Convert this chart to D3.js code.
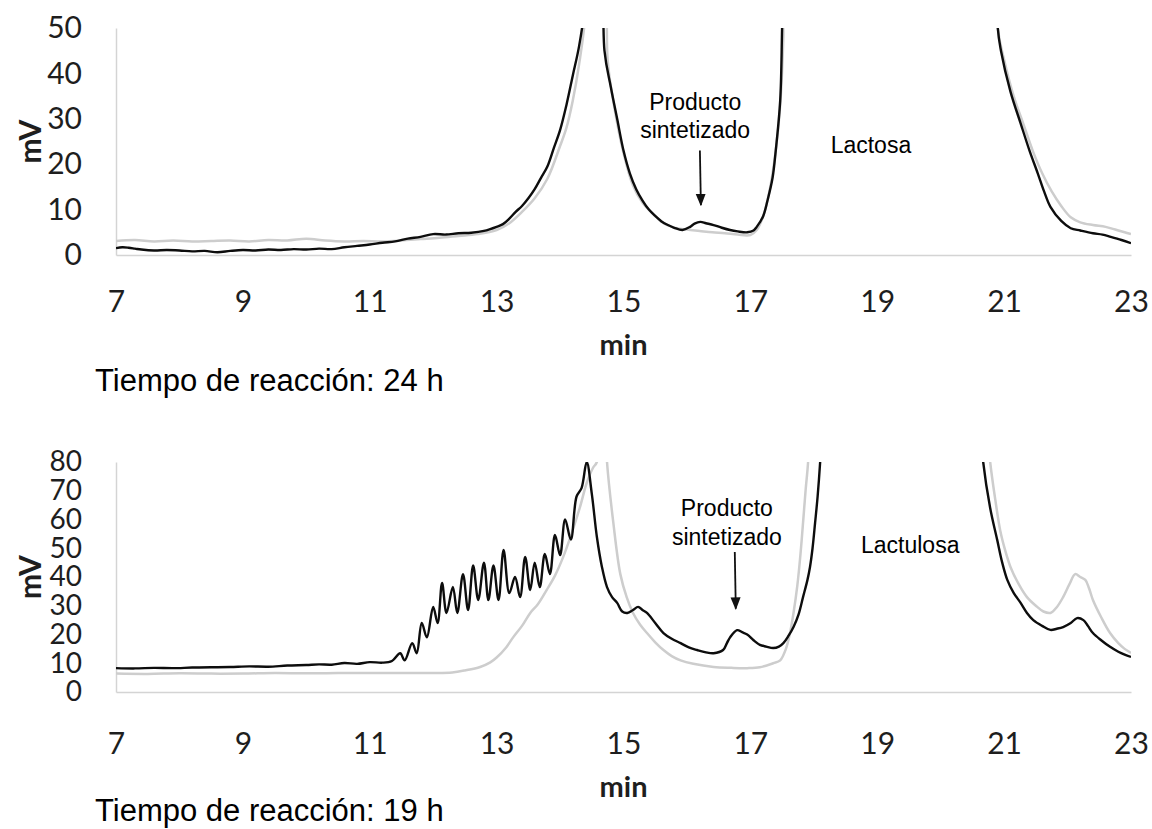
<!DOCTYPE html>
<html><head><meta charset="utf-8">
<script src="https://cdn.jsdelivr.net/npm/d3@7"></script>
<style>
html,body{margin:0;padding:0;background:#fff;}
svg{display:block;}
</style>
</head><body>
<svg id="chart" width="1152" height="829"></svg>
<script>
// ---------- DATA ----------
const xTicks = [7, 9, 11, 13, 15, 17, 19, 21, 23];
const yTicksTop = [0, 10, 20, 30, 40, 50];
const yTicksBottom = [0, 10, 20, 30, 40, 50, 60, 70, 80];

// top panel (24 h) - black trace [min, mV]
const top24Black = [
 [7.0,1.5],[7.1,1.7],[7.2,1.6],[7.3,1.4],[7.4,1.2],[7.6,1.0],[7.8,1.1],[8.0,1.0],[8.2,0.8],[8.4,0.9],[8.6,0.6],[8.8,0.9],
 [9.0,1.1],[9.2,1.0],[9.4,1.2],[9.6,1.1],[9.8,1.3],[10.0,1.2],[10.2,1.4],[10.4,1.3],[10.6,1.7],[10.8,2.0],
 [11.0,2.3],[11.2,2.7],[11.4,3.0],[11.6,3.6],[11.8,4.0],[12.0,4.6],[12.2,4.5],[12.4,4.8],[12.6,4.9],[12.8,5.3],
 [13.0,6.2],[13.1,6.8],[13.2,8.0],[13.3,9.5],[13.4,10.8],[13.5,12.5],[13.6,14.5],[13.7,17.0],[13.8,19.5],[13.9,23.5],
 [14.0,27.5],[14.1,33],[14.2,39.5],[14.3,46],[14.4,56],[14.5,90],[14.6,90],[14.7,45],[14.8,37],[14.9,30],
 [15.0,23],[15.1,18],[15.2,14.5],[15.3,12],[15.4,10.0],[15.5,8.6],[15.6,7.4],[15.7,6.6],[15.8,6.0],[15.93,5.5],
 [16.05,6.2],[16.12,6.9],[16.21,7.3],[16.3,7.0],[16.42,6.6],[16.55,6.0],[16.68,5.5],[16.8,5.2],[16.95,5.0],[17.05,5.4],
 [17.1,6.2],[17.2,8.5],[17.27,12],[17.35,17],[17.4,23],[17.47,34],[17.5,50],[17.55,90],
 [20.85,90],[20.9,50],[20.95,45],[21.1,36],[21.26,29],[21.4,23],[21.53,18],[21.63,14],[21.73,10.6],[21.9,7.5],
 [22.05,5.9],[22.2,5.4],[22.4,4.8],[22.55,4.5],[22.68,4.0],[22.85,3.3],[23.0,2.6]
];
// top panel - grey trace
const top24Grey = [
 [7.0,3.1],[7.3,3.3],[7.6,3.0],[7.9,3.2],[8.2,3.0],[8.5,3.1],[8.8,3.2],[9.1,3.0],[9.4,3.3],[9.7,3.2],
 [10.0,3.6],[10.3,3.2],[10.6,3.0],[10.9,3.1],[11.2,3.0],[11.5,3.2],[11.8,3.5],[12.1,3.8],[12.4,4.2],[12.7,4.6],
 [13.0,5.5],[13.2,7.0],[13.4,9.5],[13.6,12.5],[13.8,16.8],[14.0,24],[14.1,28],[14.2,34],[14.3,42],[14.4,53],
 [14.5,90],[14.65,90],[14.75,43],[14.85,33],[15.0,22.5],[15.15,15.3],[15.3,11.5],[15.45,9.3],[15.6,7.3],[15.8,6.0],
 [16.0,5.6],[16.2,5.3],[16.4,5.0],[16.6,4.8],[16.8,4.5],[17.0,4.4],[17.1,5.5],[17.2,8.5],[17.3,14],[17.4,23],
 [17.47,33],[17.52,48],[17.57,90],
 [20.85,90],[20.9,50],[21.0,43],[21.15,35],[21.3,29],[21.45,23],[21.6,18],[21.75,14],[21.9,10.8],[22.05,8.3],
 [22.2,7.2],[22.4,6.6],[22.6,6.2],[22.75,5.6],[22.9,5.0],[23.0,4.6]
];
// bottom panel (19 h) - black trace
const bottom19Black = [
 [7.0,8.3],[7.3,8.2],[7.6,8.4],[7.9,8.3],[8.2,8.5],[8.5,8.6],[8.8,8.7],[9.1,8.9],[9.4,8.8],[9.7,9.2],
 [10.0,9.4],[10.2,9.6],[10.4,9.5],[10.6,10.1],[10.8,9.8],[11.0,10.4],[11.2,10.2],[11.35,10.8],[11.48,13.5],[11.55,11],
 [11.67,17],[11.74,13.5],[11.82,24],[11.9,19],[12.0,29.6],[12.07,24],[12.14,37.9],[12.21,27.5],[12.31,36.5],[12.38,27.5],
 [12.47,41],[12.55,28.5],[12.63,44],[12.71,32],[12.8,45],[12.87,32],[12.95,44],[13.03,32],[13.11,49.4],[13.2,34.4],
 [13.29,40],[13.37,33],[13.45,47],[13.53,35.5],[13.6,45],[13.68,36.5],[13.76,48],[13.84,41],[13.92,54.6],[14.0,47.6],
 [14.08,60],[14.17,53],[14.26,68],[14.34,71],[14.42,80],[14.5,69],[14.58,54],[14.66,43.5],[14.74,36.5],[14.82,33],
 [14.9,31],[14.98,28],[15.06,27.5],[15.15,28.5],[15.23,29.6],[15.3,28.5],[15.37,27.5],[15.5,24],[15.63,20.5],[15.76,18.5],
 [15.9,17],[16.03,15.5],[16.16,14.6],[16.3,13.8],[16.42,13.5],[16.57,14.6],[16.63,17],[16.68,19],[16.79,21.5],[16.87,20.8],
 [16.95,20],[17.05,18],[17.15,16.4],[17.25,15.8],[17.36,15.3],[17.45,15.8],[17.52,17],[17.6,19.5],[17.68,22.6],[17.76,27],
 [17.83,33],[17.9,39],[17.94,43.5],[17.98,50],[18.02,58.8],[18.06,68],[18.1,80],[18.15,100],
 [20.6,100],[20.67,80],[20.78,64],[20.89,53],[20.97,45],[21.05,39],[21.15,34.5],[21.26,31],[21.36,27.5],[21.46,25],
 [21.6,23],[21.73,21.6],[21.83,22],[21.93,22.6],[22.05,24],[22.15,25.7],[22.25,25],[22.32,23],[22.4,20.5],[22.53,18],
 [22.67,15.7],[22.8,14],[22.9,13],[23.0,12.2]
];
// bottom panel - grey trace
const bottom19Grey = [
 [7.0,6.4],[7.5,6.3],[8.0,6.5],[8.5,6.4],[9.0,6.4],[9.5,6.6],[10.0,6.5],[10.5,6.6],[11.0,6.6],[11.5,6.6],
 [12.0,6.6],[12.3,6.8],[12.5,7.5],[12.74,8.7],[12.9,10.3],[13.0,12],[13.15,15.5],[13.26,19],[13.4,23],[13.53,27.5],
 [13.65,30.5],[13.79,35.5],[13.92,40.5],[14.05,47],[14.18,55],[14.31,64],[14.42,72.7],[14.52,78],[14.58,80],[14.65,100],
 [14.7,100],[14.74,80],[14.84,58.8],[14.95,41],[15.05,33],[15.15,27.5],[15.26,23.5],[15.37,20.5],[15.5,17.3],[15.63,14.6],
 [15.76,12.5],[15.9,11],[16.1,9.8],[16.42,8.7],[16.7,8.4],[16.95,8.3],[17.15,8.6],[17.36,10],[17.47,11],[17.56,15],
 [17.62,20],[17.68,27.5],[17.74,37],[17.79,48],[17.83,58.8],[17.87,70],[17.91,80],[17.95,100],
 [20.7,100],[20.78,80],[20.86,67],[20.94,56],[21.02,49],[21.1,43.5],[21.23,37.5],[21.36,33],[21.5,30],[21.62,28],
 [21.73,27.5],[21.83,29.5],[21.93,33],[22.03,37.5],[22.12,41],[22.2,40],[22.28,39],[22.34,36],[22.4,32],[22.53,26],
 [22.67,20.5],[22.8,17],[22.9,15],[23.0,13.6]
];

// annotations [min, mV]
const topLabels = [
 {text:"Producto", t:16.13, v:33.7},
 {text:"sintetizado", t:16.13, v:27.5},
 {text:"Lactosa", t:18.9, v:24.2}
];
const topArrow = {t:16.22, v0:23, v1:11};
const bottomLabels = [
 {text:"Producto", t:16.63, v:64},
 {text:"sintetizado", t:16.63, v:54},
 {text:"Lactulosa", t:19.52, v:51}
];
const bottomArrow = {t:16.77, v0:48.7, v1:29};
const panelTitles = ["Tiempo de reacción: 24 h", "Tiempo de reacción: 19 h"];

// ---------- DRAW ----------
const svg = d3.select("#chart");
const defs = svg.append("defs");
defs.append("marker").attr("id","arrow").attr("viewBox","0 0 10 10")
  .attr("refX",9).attr("refY",5).attr("markerWidth",7).attr("markerHeight",7)
  .attr("orient","auto-start-reverse")
  .append("path").attr("d","M0,1 L10,5 L0,9 z").attr("fill","#111");

const tickFont = "Lato, 'Open Sans', sans-serif";
const annFont = "'Liberation Sans', Arial, sans-serif";

function panel(cfg){
  const x = d3.scaleLinear().domain([7,23]).range([116,1131]);
  const y = d3.scaleLinear().domain(cfg.ydom).range(cfg.yrange);
  const g = svg.append("g");
  const id = "clip" + cfg.key;
  defs.append("clipPath").attr("id",id).append("rect")
    .attr("x",x(7)).attr("y",y(cfg.ydom[1])).attr("width",x(23)-x(7)).attr("height",y(0)-y(cfg.ydom[1]));

  // y axis
  const ya = g.append("g").attr("transform",`translate(${x(7)},0)`)
    .call(d3.axisLeft(y).tickValues(cfg.yticks).tickSize(0).tickPadding(34).tickSizeOuter(0));
  ya.select(".domain").attr("stroke","#d4d4d4").attr("stroke-width",1.5);
  ya.selectAll("text").attr("font-family",tickFont).attr("font-size",cfg.yfs).attr("fill","#1e1e1e");

  // x axis
  const xa = g.append("g").attr("transform",`translate(0,${y(0)})`)
    .call(d3.axisBottom(x).tickValues(xTicks).tickSize(0).tickPadding(cfg.xpad).tickSizeOuter(0));
  xa.select(".domain").attr("stroke","#d4d4d4").attr("stroke-width",1.5);
  xa.selectAll("text").attr("font-family",tickFont).attr("font-size",30).attr("fill","#1e1e1e");

  const line = d3.line().x(d=>x(d[0])).y(d=>y(d[1])).curve(d3.curveCatmullRom.alpha(0.5));
  const lines = g.append("g").attr("clip-path",`url(#${id})`);
  lines.append("path").datum(cfg.grey).attr("d",line).attr("fill","none")
    .attr("stroke","#cdcdcd").attr("stroke-width",2.5).attr("stroke-linejoin","round");
  lines.append("path").datum(cfg.black).attr("d",line).attr("fill","none")
    .attr("stroke","#0d0d0d").attr("stroke-width",2.4).attr("stroke-linejoin","round");

  // mV label
  g.append("text").attr("transform",`translate(${cfg.mvX},${(y(0)+y(cfg.ydom[1]))/2}) rotate(-90)`)
    .attr("text-anchor","middle").attr("dominant-baseline","central")
    .attr("font-family",tickFont).attr("font-weight",700).attr("font-size",30).attr("fill","#1e1e1e").text("mV");
  // min label
  g.append("text").attr("x",(x(7)+x(23))/2).attr("y",cfg.minY).attr("text-anchor","middle")
    .attr("font-family",tickFont).attr("font-weight",700).attr("font-size",29).attr("fill","#1e1e1e").text("min");
  // panel title
  g.append("text").attr("x",95).attr("y",cfg.titleY).attr("font-family",annFont)
    .attr("font-size",31).attr("fill","#000").text(cfg.title);

  // annotations
  g.selectAll(".ann").data(cfg.labels).join("text")
    .attr("x",d=>x(d.t)).attr("y",d=>y(d.v)).attr("text-anchor","middle").attr("dominant-baseline","central")
    .attr("font-family",annFont).attr("font-size",23).attr("fill","#000").text(d=>d.text);
  g.append("line").attr("x1",x(cfg.arrow.t)-1).attr("x2",x(cfg.arrow.t)).attr("y1",y(cfg.arrow.v0)).attr("y2",y(cfg.arrow.v1))
    .attr("stroke","#111").attr("stroke-width",1.8).attr("marker-end","url(#arrow)");
}

panel({key:"top", ydom:[0,50], yrange:[255,28], yticks:yTicksTop, xpad:36, yfs:30,
  grey:top24Grey, black:top24Black, mvX:29, minY:355, titleY:391, title:panelTitles[0],
  labels:topLabels, arrow:topArrow});
panel({key:"bot", ydom:[0,80], yrange:[692,462], yticks:yTicksBottom, xpad:41, yfs:28,
  grey:bottom19Grey, black:bottom19Black, mvX:29, minY:797, titleY:821, title:panelTitles[1],
  labels:bottomLabels, arrow:bottomArrow});
</script>
</body></html>
